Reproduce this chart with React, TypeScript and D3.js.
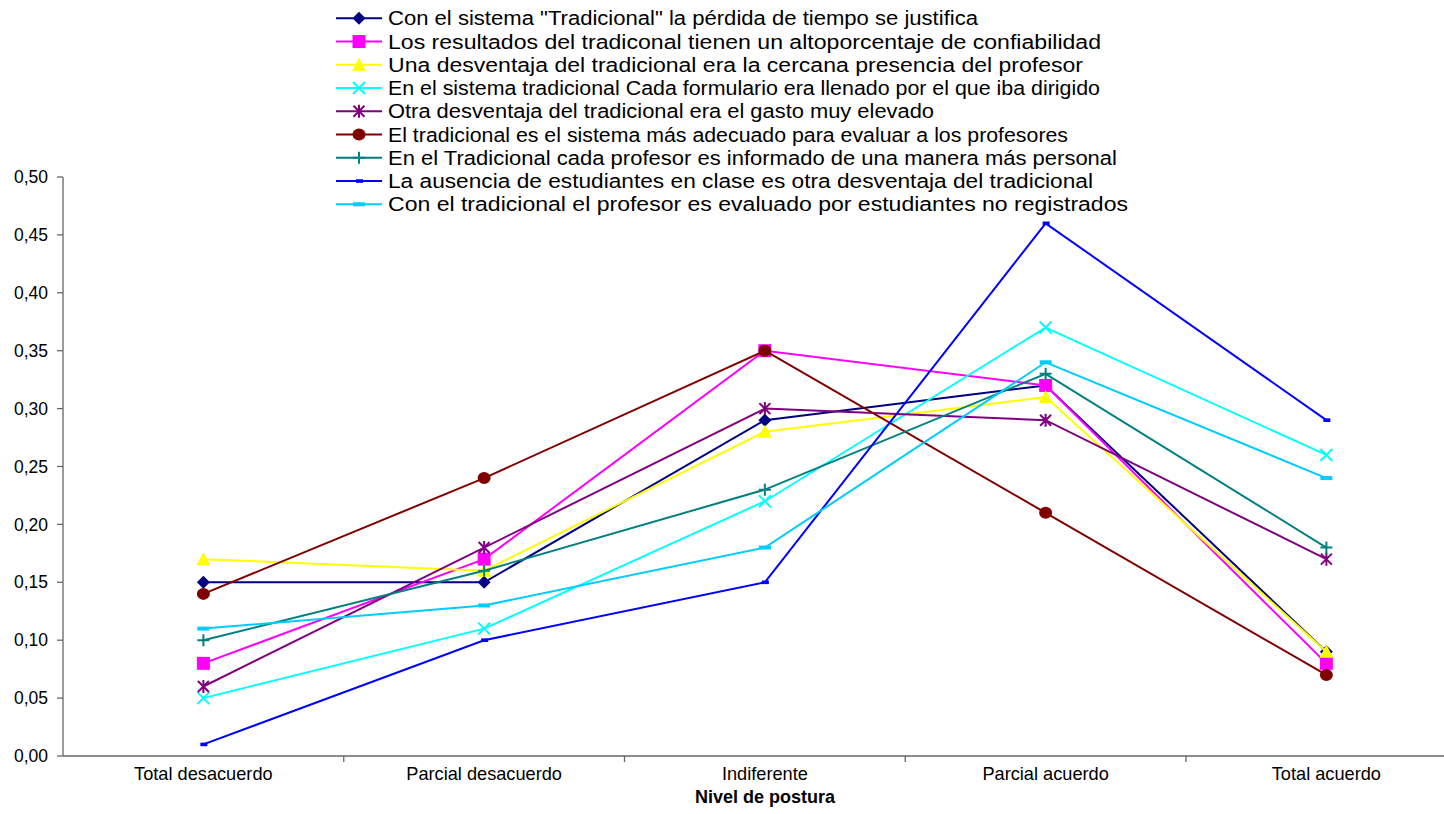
import React from "react";
import * as d3 from "d3";

const categories = ["Total desacuerdo", "Parcial desacuerdo", "Indiferente", "Parcial acuerdo", "Total acuerdo"];
const seriesNames = [
  "Con el sistema \"Tradicional\" la pérdida de tiempo se justifica",
  "Los resultados del tradiconal tienen un altoporcentaje de confiabilidad",
  "Una desventaja del tradicional era la cercana presencia del profesor",
  "En el sistema tradicional Cada formulario era llenado por el que iba dirigido",
  "Otra desventaja del tradicional era el gasto muy elevado",
  "El tradicional es el sistema más adecuado para evaluar a los profesores",
  "En el Tradicional cada profesor es informado de una manera más personal",
  "La ausencia de estudiantes en clase es otra desventaja del tradicional",
  "Con el tradicional el profesor es evaluado por estudiantes no registrados",
];
const s1 = [0.15, 0.15, 0.29, 0.32, 0.09];
const s2 = [0.08, 0.17, 0.35, 0.32, 0.08];
const s3 = [0.17, 0.16, 0.28, 0.31, 0.09];
const s4 = [0.05, 0.11, 0.22, 0.37, 0.26];
const s5 = [0.06, 0.18, 0.30, 0.29, 0.17];
const s6 = [0.14, 0.24, 0.35, 0.21, 0.07];
const s7 = [0.10, 0.16, 0.23, 0.33, 0.18];
const s8 = [0.01, 0.10, 0.15, 0.46, 0.29];
const s9 = [0.11, 0.13, 0.18, 0.34, 0.24];
const seriesValues = [s1, s2, s3, s4, s5, s6, s7, s8, s9];
const colors = ["#000080", "#FF00FF", "#FFFF00", "#00FFFF", "#800080", "#800000", "#008080", "#0000FF", "#00CCFF"];
const markers = ["diamond", "square", "triangle", "x", "star", "circle", "plus", "dashSmall", "dash"];
const yTicks = [0, 0.05, 0.1, 0.15, 0.2, 0.25, 0.3, 0.35, 0.4, 0.45, 0.5];
const xTitle = "Nivel de postura";

// layout: rendered widths of the legend labels in the reference
const legendTextWidths = [590, 713, 695, 712, 546, 680, 729, 705, 740];

const FONT = "'Liberation Sans', Arial, sans-serif";

function Marker({ type, x, y, color }: { type: string; x: number; y: number; color: string }) {
  switch (type) {
    case "diamond":
      return <path d={`M${x},${y - 6.5}L${x + 6.5},${y}L${x},${y + 6.5}L${x - 6.5},${y}Z`} fill={color} />;
    case "square":
      return <rect x={x - 6.5} y={y - 6.5} width={13} height={13} fill={color} />;
    case "triangle":
      return <path d={`M${x},${y - 7}L${x + 7},${y + 6}L${x - 7},${y + 6}Z`} fill={color} />;
    case "circle":
      return <ellipse cx={x} cy={y} rx={6.5} ry={6} fill={color} />;
    case "x":
      return <path d={`M${x - 6},${y - 6}L${x + 6},${y + 6}M${x - 6},${y + 6}L${x + 6},${y - 6}`} stroke={color} strokeWidth={2} fill="none" />;
    case "star":
      return <path d={`M${x - 5.5},${y - 5.5}L${x + 5.5},${y + 5.5}M${x - 5.5},${y + 5.5}L${x + 5.5},${y - 5.5}M${x},${y - 6.5}L${x},${y + 6.5}`} stroke={color} strokeWidth={2} fill="none" />;
    case "plus":
      return <path d={`M${x - 6},${y}L${x + 6},${y}M${x},${y - 6}L${x},${y + 6}`} stroke={color} strokeWidth={2} fill="none" />;
    case "dashSmall":
      return <rect x={x - 3} y={y - 1.8} width={7} height={3.6} fill={color} />;
    case "dash":
      return <rect x={x - 6} y={y - 2} width={12} height={4} fill={color} />;
    default:
      return null;
  }
}

export default function App() {
  const W = 1444, H = 814;
  const left = 63, bandW = 280.75;
  const x = d3.scaleBand<string>().domain(categories).range([left, left + bandW * categories.length]).paddingInner(0).paddingOuter(0);
  const cx = (c: string) => (x(c) as number) + x.bandwidth() / 2;
  const y = d3.scaleLinear().domain([0, 0.5]).range([756, 177]);
  const fmt = (v: number) => d3.format(".2f")(v).replace(".", ",");
  const line = d3.line<number>().x((_, i) => cx(categories[i])).y((d) => y(d));
  const axisColor = "#666666";

  const legX = 336, legY0 = 18.3, legDy = 23.25;

  return (
    <svg width={W} height={H} style={{ position: "absolute", left: 0, top: 0, background: "#fff" }} fontFamily={FONT}>
      <defs>
        <clipPath id="plotClip">
          <rect x={0} y={0} width={1333} height={H} />
        </clipPath>
      </defs>
      {/* Y axis */}
      <line x1={left} x2={left} y1={y(0.5)} y2={y(0)} stroke={axisColor} strokeWidth={1.3} />
      {yTicks.map((t) => (
        <g key={t}>
          <line x1={left - 6} x2={left} y1={y(t)} y2={y(t)} stroke={axisColor} strokeWidth={1.3} />
          <text x={48} y={y(t)} dy="0.35em" textAnchor="end" fontSize={17.5} fill="#000">{fmt(t)}</text>
        </g>
      ))}
      {/* X axis */}
      <line x1={left} x2={W} y1={y(0)} y2={y(0)} stroke={axisColor} strokeWidth={1.3} />
      {categories.map((c, i) => (
        <g key={c}>
          <line x1={left + bandW * (i + 1)} x2={left + bandW * (i + 1)} y1={y(0)} y2={y(0) + 6} stroke={axisColor} strokeWidth={1.3} />
          <text x={cx(c)} y={780} textAnchor="middle" fontSize={18.2} fill="#000">{c}</text>
        </g>
      ))}
      <text x={765} y={803} textAnchor="middle" fontSize={18} fontWeight="bold" fill="#000">{xTitle}</text>
      {/* Series */}
      <g clipPath="url(#plotClip)">
        {seriesValues.map((vals, si) => (
          <g key={si}>
            <path d={line(vals) as string} fill="none" stroke={colors[si]} strokeWidth={2} />
            {vals.map((v, i) => (
              <Marker key={i} type={markers[si]} x={cx(categories[i])} y={y(v)} color={colors[si]} />
            ))}
          </g>
        ))}
      </g>
      {/* Legend */}
      {seriesNames.map((n, i) => {
        const ly = legY0 + i * legDy;
        return (
          <g key={n}>
            <line x1={legX} x2={legX + 46} y1={ly} y2={ly} stroke={colors[i]} strokeWidth={2} />
            <Marker type={markers[i]} x={legX + 23} y={ly} color={colors[i]} />
            <text x={388} y={ly} dy="0.36em" fontSize={19.5} fill="#000" textLength={legendTextWidths[i]} lengthAdjust="spacingAndGlyphs">{n}</text>
          </g>
        );
      })}
    </svg>
  );
}
